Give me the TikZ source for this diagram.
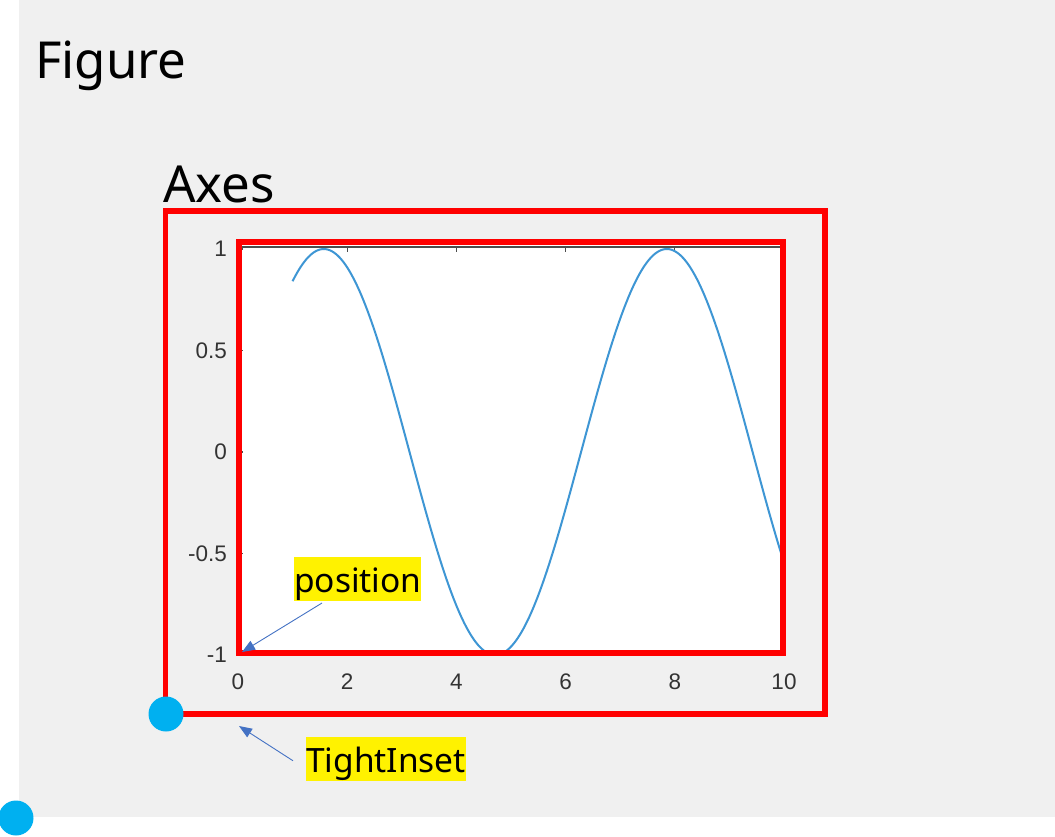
\documentclass[tikz,border=0pt]{standalone}
\usepackage{fontspec}
\setmainfont{Noto Sans}
\newfontfamily\tickfont{Liberation Sans}
\usetikzlibrary{arrows.meta}
\definecolor{bggray}{HTML}{F0F0F0}
\definecolor{dotcyan}{HTML}{00B0F0}
\definecolor{arrblue}{HTML}{4472C4}
\definecolor{plotblue}{HTML}{3E96D4}
\definecolor{ticktext}{HTML}{333333}
\tikzset{
  title/.style={anchor=base west, inner sep=0pt, font=\fontsize{51}{58}\selectfont},
  redbox/.style={draw=red, line width=5.5pt, inner sep=0pt},
  hilite/.style={anchor=base west, fill=yellow, inner xsep=0pt, inner ysep=0pt,
    text height=35pt, text depth=8.5pt, font=\fontsize{33.5}{38}\selectfont},
  pointer/.style={draw=arrblue, line width=0.9pt, -{Triangle[length=13pt,width=10pt]}},
  dot/.style={circle, fill=dotcyan, inner sep=0pt, minimum size=35pt},
  ticklab/.style={inner sep=0pt, text=ticktext, font=\tickfont\fontsize{22.5}{24}\selectfont},
  axisline/.style={draw=black!70, line width=1.2pt},
}
\begin{document}
\begin{tikzpicture}[x=1pt,y=-1pt]
\useasboundingbox (0,0) rectangle (1055,836);
\fill[white] (0,0) rectangle (1055,836);
\fill[bggray] (19,0) rectangle (1055,817);

\node[title] (fig) at (35,78) {Figure};
\node[title] (axes) at (163,202) {Axes};

% plot area
\fill[white] (239,242) rectangle (783,653);
\draw[axisline] (238,247) -- (782,247);
\foreach \k in {0,2,4,6,8,10} {
  \draw[axisline] ({238+54.6*\k},247) -- ({238+54.6*\k},252);
  \node[ticklab] (xl\k) at ({238+54.6*\k},682) {\k};
}
\foreach \v/\lab/\nm in {1/1/a,0.5/0.5/b,0/0/c,-0.5/-0.5/d,-1/-1/e} {
  \draw[axisline] (238,{452-203*\v}) -- (243,{452-203*\v});
  \node[ticklab, anchor=east] (yl\nm) at (227,{452-203*\v}) {\lab};
}
\draw[plotblue, line width=2pt, domain=1:10, samples=250]
  plot ({238+54.6*\x},{452-203*sin(\x r)});

% red rectangles
\node[redbox, minimum width=659.5pt, minimum height=503pt] (outer) at (495.25,462.5) {};
\node[redbox, minimum width=544pt, minimum height=411pt] (inner) at (511,447.5) {};

% labels
\node[hilite] (pos) at (294,592) {position};
\node[hilite] (tight) at (306,772) {TightInset};

\coordinate (pstart) at (322,603);
\coordinate (ptip) at (242,652);
\coordinate (ttip) at (239,726);
\draw[pointer] (pstart) -- (ptip);
\draw[pointer] ([xshift=-13pt,yshift=-2pt]tight.west) -- (ttip);

% dots
\node[dot] (d1) at (166,714) {};
\node[dot] (d2) at (16,818) {};
\end{tikzpicture}
\end{document}
